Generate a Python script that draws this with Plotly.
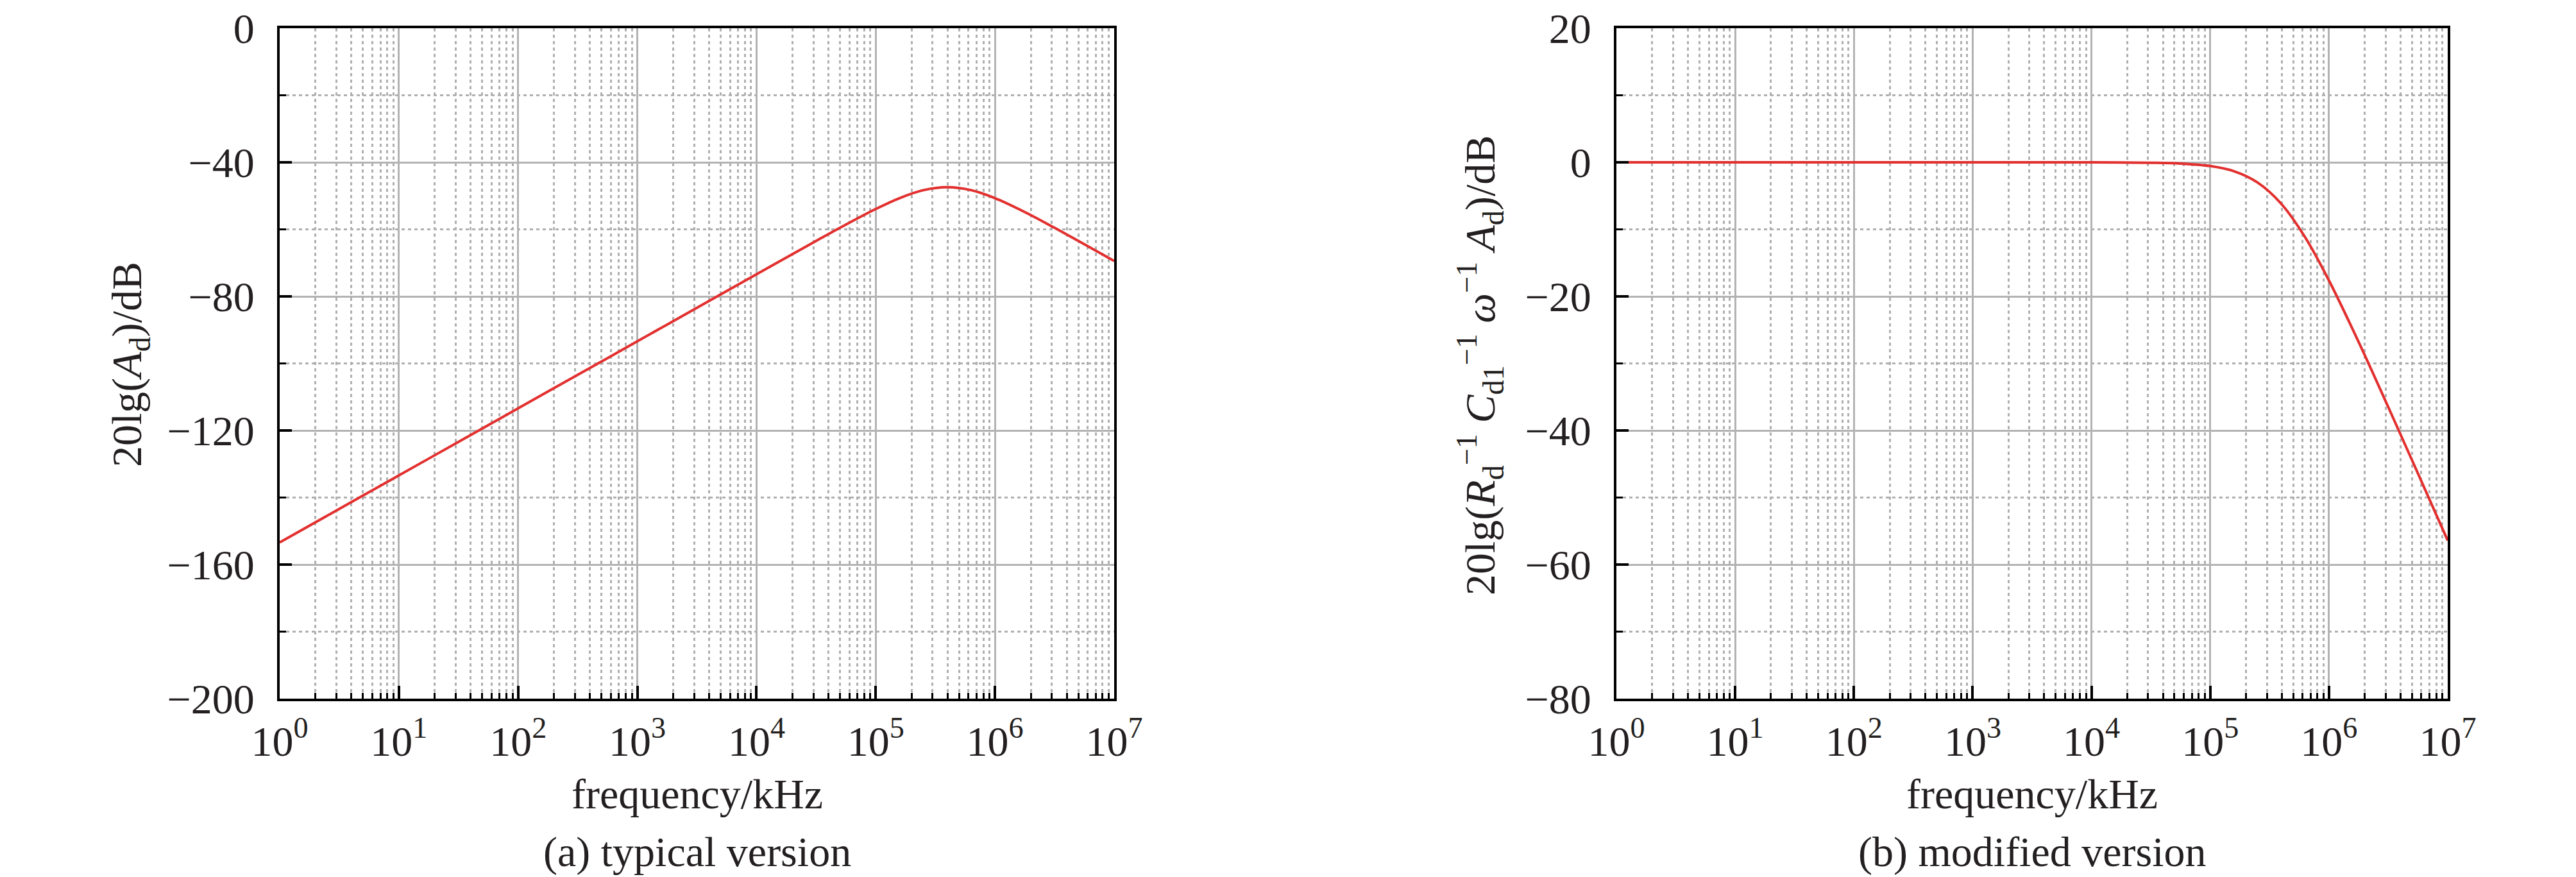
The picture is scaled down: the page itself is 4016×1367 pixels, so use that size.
import plotly.graph_objects as go

# ---- data ----
logf_a = [0, 0.5, 1, 1.5, 2, 2.5, 3, 3.5, 4, 4.5, 4.75, 5.0, 5.2, 5.4, 5.6, 5.8, 6.0, 6.25, 6.5, 6.75, 7.0]
db_a = [-153.4, -143.4, -133.4, -123.4, -113.4, -103.4, -93.4, -83.4, -73.4, -63.45, -58.57,
        -53.93, -50.68, -48.31, -47.42, -48.31, -50.68, -54.82, -59.54, -64.44, -69.41]

logf_b = [0, 1, 2, 3, 4, 4.5, 4.75, 5.0, 5.2, 5.4, 5.6, 5.8, 6.0, 6.25, 6.5, 6.75, 7.0]
db_b = [0, 0, 0, 0, 0, -0.06, -0.18, -0.56, -1.33, -3.03, -6.22, -11.2, -17.63, -26.8, -36.53, -46.44, -56.41]

x_tickvals = [1, 10, 100, 1e3, 1e4, 1e5, 1e6, 1e7]
x_ticktext = ["10<sup>%d</sup>" % i for i in range(8)]
ya_tickvals = [0, -40, -80, -120, -160, -200]
ya_ticktext = ["0", "\u221240", "\u221280", "\u2212120", "\u2212160", "\u2212200"]
yb_tickvals = [20, 0, -20, -40, -60, -80]
yb_ticktext = ["20", "0", "\u221220", "\u221240", "\u221260", "\u221280"]

FONT = "Liberation Serif, Times New Roman, serif"
TXT = "#231f20"
RED = "#e2302f"
MAJ = "#b3b3b3"
MIN = "#b0b0b0"
FS = 66

fig = go.Figure()
fig.add_trace(go.Scatter(x=[10 ** v for v in logf_a], y=db_a, mode="lines",
                         line=dict(color=RED, width=4, shape="spline"),
                         xaxis="x", yaxis="y", showlegend=False))
fig.add_trace(go.Scatter(x=[10 ** v for v in logf_b], y=db_b, mode="lines",
                         line=dict(color=RED, width=4, shape="spline"),
                         xaxis="x2", yaxis="y2", showlegend=False))

W, H = 4016, 1367
L1, R1 = 428, 1729
L2, R2 = 2512, 3808
TOP, BOT = 36, 1081

def xax(dom):
    return dict(type="log", domain=dom, range=[0, 7], tickvals=x_tickvals, ticktext=x_ticktext,
                showline=True, linecolor="black", linewidth=4, mirror=True,
                ticks="inside", ticklen=20, tickwidth=4, tickcolor="black",
                showgrid=True, gridcolor=MAJ, gridwidth=3,
                minor=dict(dtick="D1", ticks="inside", ticklen=9, tickwidth=3, tickcolor="black",
                           showgrid=True, gridcolor=MIN, gridwidth=3, griddash="5px,5px"),
                tickfont=dict(family=FONT, size=FS, color=TXT), zeroline=False,
                ticklabelstandoff=6, automargin=False)

def yax(rng, tv, tt, anchor, mdt):
    return dict(domain=[1 - BOT / H, 1 - TOP / H], range=rng, tickvals=tv, ticktext=tt, anchor=anchor,
                showline=True, linecolor="black", linewidth=4, mirror=True,
                ticks="inside", ticklen=19, tickwidth=4, tickcolor="black",
                showgrid=True, gridcolor=MAJ, gridwidth=3,
                minor=dict(dtick=mdt, tick0=0, ticks="inside", ticklen=10, tickwidth=3, tickcolor="black",
                           showgrid=True, gridcolor=MIN, gridwidth=3, griddash="5px,5px"),
                tickfont=dict(family=FONT, size=FS, color=TXT), zeroline=False,
                ticklabelstandoff=22, automargin=False)

fig.update_layout(
    width=W, height=H, margin=dict(l=0, r=0, t=0, b=0, autoexpand=False),
    paper_bgcolor="white", plot_bgcolor="white",
    xaxis=xax([L1 / W, R1 / W]) | dict(anchor="y"),
    yaxis=yax([-200, 0], ya_tickvals, ya_ticktext, "x", 20),
    xaxis2=xax([L2 / W, R2 / W]) | dict(anchor="y2"),
    yaxis2=yax([-80, 20], yb_tickvals, yb_ticktext, "x2", 10),
)

def ann(text, x, y, angle=0, size=FS):
    fig.add_annotation(text=text, x=x / W, y=1 - y / H, xref="paper", yref="paper",
                       showarrow=False, textangle=angle, xanchor="center", yanchor="middle",
                       font=dict(family=FONT, size=size, color=TXT))

ann("frequency/kHz", (L1 + R1) / 2, 1229)
ann("frequency/kHz", (L2 + R2) / 2, 1229)
ann("(a) typical version", (L1 + R1) / 2, 1320)
ann("(b) modified version", (L2 + R2) / 2, 1320)
ann("20lg(<i>A</i><sub>d</sub>)/dB", 194, 560, angle=-90)
ann("20lg(<i>R</i><sub>d</sub><sup>\u22121</sup> <i>C</i><sub>d1</sub><sup>\u22121</sup> <i>\u03c9</i><sup>\u22121</sup> <i>A</i><sub>d</sub>)/dB",
    2300, 562, angle=-90)

fig.write_html("out.html")
